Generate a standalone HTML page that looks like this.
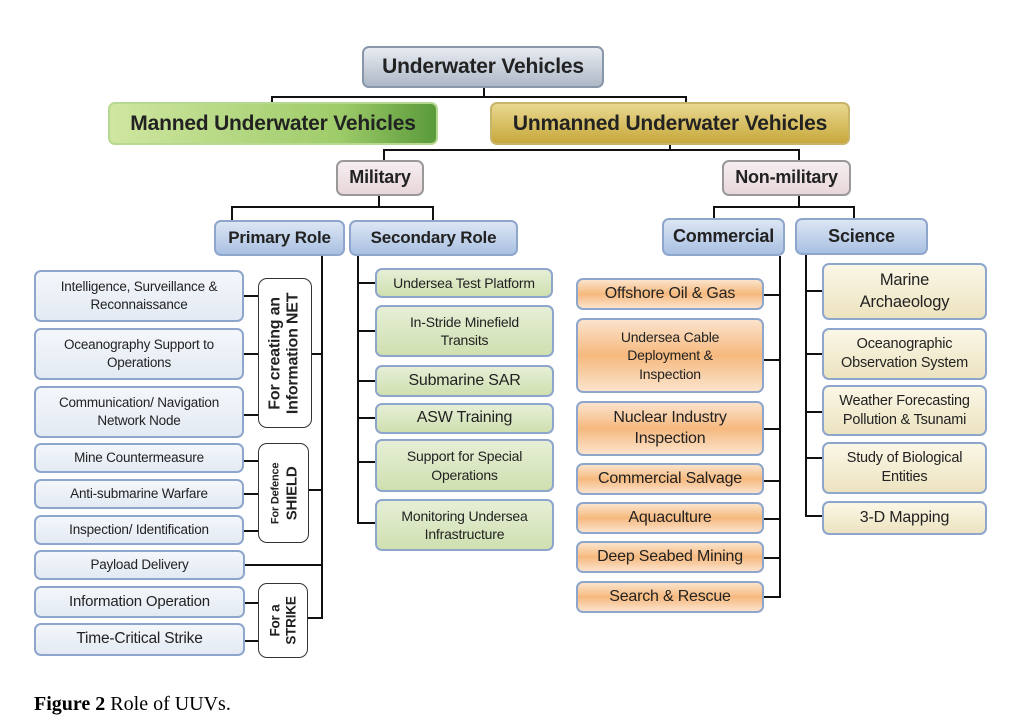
<!DOCTYPE html>
<html><head><meta charset="utf-8"><style>
body{margin:0;width:1009px;height:723px;background:#fff;position:relative;overflow:hidden;font-family:"Liberation Sans",sans-serif;}
.b{position:absolute;box-sizing:border-box;border:2px solid #8ea6cc;border-radius:7px;display:flex;align-items:center;justify-content:center;text-align:center;color:#222;line-height:1.3;letter-spacing:-0.2px;}
.l{position:absolute;background:#111;}
.lb{background:linear-gradient(#f4f7fb,#e3eaf3);font-size:13.5px;}
.gr{background:linear-gradient(#e6efd6,#cfe0b0);font-size:14px;}
.or{background:linear-gradient(#fbe3cc,#f6b97e 50%,#fbe3cc);font-size:15px;}
.sc{background:linear-gradient(#fbf7e6,#ece3c0);font-size:14.5px;}
.hd{background:linear-gradient(#dce6f4,#a9c0e2);font-weight:bold;font-size:17px;}
.pk{background:linear-gradient(#f6eef0,#e8d6da);font-weight:bold;font-size:18px;border-color:#999;}
.br{background:#fff;border:1.5px solid #333;border-radius:9px;}
.br span{transform:rotate(-90deg);white-space:nowrap;font-weight:bold;line-height:1.15;}
</style></head><body>
<!-- top -->
<div class="b" style="left:362px;top:46px;width:242px;height:42px;background:linear-gradient(#e8ecf2,#aeb8c6);border-color:#8897aa;font-weight:bold;font-size:21px">Underwater Vehicles</div>
<div class="l" style="left:483px;top:88px;width:2px;height:9px"></div>
<div class="l" style="left:271px;top:96px;width:416px;height:2px"></div>
<div class="l" style="left:271px;top:96px;width:2px;height:7px"></div>
<div class="l" style="left:685px;top:96px;width:2px;height:7px"></div>
<div class="b" style="left:108px;top:102px;width:330px;height:43px;background:linear-gradient(90deg,#cfe6a0,#9fcc6a 70%,#5a9a3a);border-color:#b7d890;font-weight:bold;font-size:21px">Manned Underwater Vehicles</div>
<div class="b" style="left:490px;top:102px;width:360px;height:43px;background:linear-gradient(#e8d890,#c8a83c);border-color:#c9b56a;font-weight:bold;font-size:21px">Unmanned Underwater Vehicles</div>
<div class="l" style="left:669px;top:145px;width:2px;height:6px"></div>
<div class="l" style="left:383px;top:149px;width:417px;height:2px"></div>
<div class="l" style="left:383px;top:149px;width:2px;height:12px"></div>
<div class="l" style="left:798px;top:149px;width:2px;height:12px"></div>
<div class="b pk" style="left:336px;top:160px;width:88px;height:36px">Military</div>
<div class="b pk" style="left:722px;top:160px;width:129px;height:36px">Non-military</div>
<!-- military split -->
<div class="l" style="left:378px;top:196px;width:2px;height:11px"></div>
<div class="l" style="left:231px;top:206px;width:203px;height:2px"></div>
<div class="l" style="left:231px;top:206px;width:2px;height:15px"></div>
<div class="l" style="left:432px;top:206px;width:2px;height:15px"></div>
<div class="b hd" style="left:214px;top:220px;width:131px;height:36px">Primary Role</div>
<div class="b hd" style="left:349px;top:220px;width:169px;height:36px">Secondary Role</div>
<!-- nonmil split -->
<div class="l" style="left:798px;top:196px;width:2px;height:11px"></div>
<div class="l" style="left:713px;top:206px;width:142px;height:2px"></div>
<div class="l" style="left:713px;top:206px;width:2px;height:13px"></div>
<div class="l" style="left:853px;top:206px;width:2px;height:13px"></div>
<div class="b hd" style="left:662px;top:218px;width:123px;height:38px;font-size:18px">Commercial</div>
<div class="b hd" style="left:795px;top:218px;width:133px;height:37px;font-size:18px">Science</div>
<!-- primary -->
<div class="l" style="left:321px;top:256px;width:2px;height:363px"></div>
<div class="b lb" style="left:34px;top:270px;width:210px;height:52px">Intelligence, Surveillance &amp;<br>Reconnaissance</div>
<div class="b lb" style="left:34px;top:328px;width:210px;height:52px">Oceanography Support to<br>Operations</div>
<div class="b lb" style="left:34px;top:386px;width:210px;height:52px">Communication/ Navigation<br>Network Node</div>
<div class="b lb" style="left:34px;top:443px;width:210px;height:30px">Mine Countermeasure</div>
<div class="b lb" style="left:34px;top:479px;width:210px;height:30px">Anti-submarine Warfare</div>
<div class="b lb" style="left:34px;top:515px;width:210px;height:30px">Inspection/ Identification</div>
<div class="b lb" style="left:34px;top:550px;width:211px;height:30px">Payload Delivery</div>
<div class="b lb" style="left:34px;top:586px;width:211px;height:32px;font-size:15px">Information Operation</div>
<div class="b lb" style="left:34px;top:623px;width:211px;height:33px;font-size:15.5px">Time-Critical Strike</div>
<div class="l" style="left:244px;top:295px;width:14px;height:2px"></div>
<div class="l" style="left:244px;top:353px;width:14px;height:2px"></div>
<div class="l" style="left:244px;top:414px;width:14px;height:2px"></div>
<div class="l" style="left:244px;top:460px;width:14px;height:2px"></div>
<div class="l" style="left:244px;top:493px;width:14px;height:2px"></div>
<div class="l" style="left:244px;top:530px;width:14px;height:2px"></div>
<div class="l" style="left:245px;top:564px;width:77px;height:2px"></div>
<div class="l" style="left:245px;top:602px;width:13px;height:2px"></div>
<div class="l" style="left:245px;top:640px;width:13px;height:2px"></div>
<div class="b br" style="left:258px;top:278px;width:54px;height:150px"><span style="font-size:16px">For creating an<br>Information NET</span></div>
<div class="b br" style="left:258px;top:443px;width:51px;height:100px"><span><span style="font-size:11px;font-weight:bold">For Defence</span><br><span style="font-size:15px">SHIELD</span></span></div>
<div class="b br" style="left:258px;top:583px;width:50px;height:75px"><span style="font-size:13.5px">For a<br>STRIKE</span></div>
<div class="l" style="left:312px;top:353px;width:10px;height:2px"></div>
<div class="l" style="left:309px;top:489px;width:13px;height:2px"></div>
<div class="l" style="left:308px;top:617px;width:15px;height:2px"></div>
<!-- secondary -->
<div class="l" style="left:357px;top:256px;width:2px;height:268px"></div>
<div class="b gr" style="left:375px;top:268px;width:178px;height:30px">Undersea Test Platform</div>
<div class="b gr" style="left:375px;top:305px;width:179px;height:52px">In-Stride Minefield<br>Transits</div>
<div class="b gr" style="left:375px;top:365px;width:179px;height:32px;font-size:16px">Submarine SAR</div>
<div class="b gr" style="left:375px;top:403px;width:179px;height:31px;font-size:16px">ASW Training</div>
<div class="b gr" style="left:375px;top:439px;width:179px;height:53px">Support for Special<br>Operations</div>
<div class="b gr" style="left:375px;top:499px;width:179px;height:52px">Monitoring Undersea<br>Infrastructure</div>
<div class="l" style="left:357px;top:282px;width:18px;height:2px"></div>
<div class="l" style="left:357px;top:330px;width:18px;height:2px"></div>
<div class="l" style="left:357px;top:380px;width:18px;height:2px"></div>
<div class="l" style="left:357px;top:417px;width:18px;height:2px"></div>
<div class="l" style="left:357px;top:461px;width:18px;height:2px"></div>
<div class="l" style="left:357px;top:522px;width:18px;height:2px"></div>
<!-- commercial -->
<div class="l" style="left:779px;top:256px;width:2px;height:342px"></div>
<div class="b or" style="left:576px;top:278px;width:188px;height:32px;font-size:16px">Offshore Oil &amp; Gas</div>
<div class="b or" style="left:576px;top:318px;width:188px;height:75px;font-size:14px">Undersea Cable<br>Deployment &amp;<br>Inspection</div>
<div class="b or" style="left:576px;top:401px;width:188px;height:55px;font-size:16px">Nuclear Industry<br>Inspection</div>
<div class="b or" style="left:576px;top:463px;width:188px;height:32px;font-size:16px">Commercial Salvage</div>
<div class="b or" style="left:576px;top:502px;width:188px;height:32px;font-size:16px">Aquaculture</div>
<div class="b or" style="left:576px;top:541px;width:188px;height:32px;font-size:16px">Deep Seabed Mining</div>
<div class="b or" style="left:576px;top:581px;width:188px;height:32px;font-size:16px">Search &amp; Rescue</div>
<div class="l" style="left:764px;top:294px;width:16px;height:2px"></div>
<div class="l" style="left:764px;top:359px;width:16px;height:2px"></div>
<div class="l" style="left:764px;top:428px;width:16px;height:2px"></div>
<div class="l" style="left:764px;top:480px;width:16px;height:2px"></div>
<div class="l" style="left:764px;top:518px;width:16px;height:2px"></div>
<div class="l" style="left:764px;top:557px;width:16px;height:2px"></div>
<div class="l" style="left:764px;top:596px;width:16px;height:2px"></div>
<!-- science -->
<div class="l" style="left:805px;top:255px;width:2px;height:262px"></div>
<div class="b sc" style="left:822px;top:263px;width:165px;height:57px;font-size:16.5px">Marine<br>Archaeology</div>
<div class="b sc" style="left:822px;top:328px;width:165px;height:52px">Oceanographic<br>Observation System</div>
<div class="b sc" style="left:822px;top:385px;width:165px;height:51px">Weather Forecasting<br>Pollution &amp; Tsunami</div>
<div class="b sc" style="left:822px;top:442px;width:165px;height:52px">Study of Biological<br>Entities</div>
<div class="b sc" style="left:822px;top:501px;width:165px;height:34px;font-size:16px">3-D Mapping</div>
<div class="l" style="left:805px;top:290px;width:17px;height:2px"></div>
<div class="l" style="left:805px;top:353px;width:17px;height:2px"></div>
<div class="l" style="left:805px;top:411px;width:17px;height:2px"></div>
<div class="l" style="left:805px;top:457px;width:17px;height:2px"></div>
<div class="l" style="left:805px;top:515px;width:17px;height:2px"></div>
<div style="position:absolute;left:34px;top:693px;font-family:'Liberation Serif',serif;font-size:20px;color:#000"><b>Figure 2</b> Role of UUVs.</div>
</body></html>
